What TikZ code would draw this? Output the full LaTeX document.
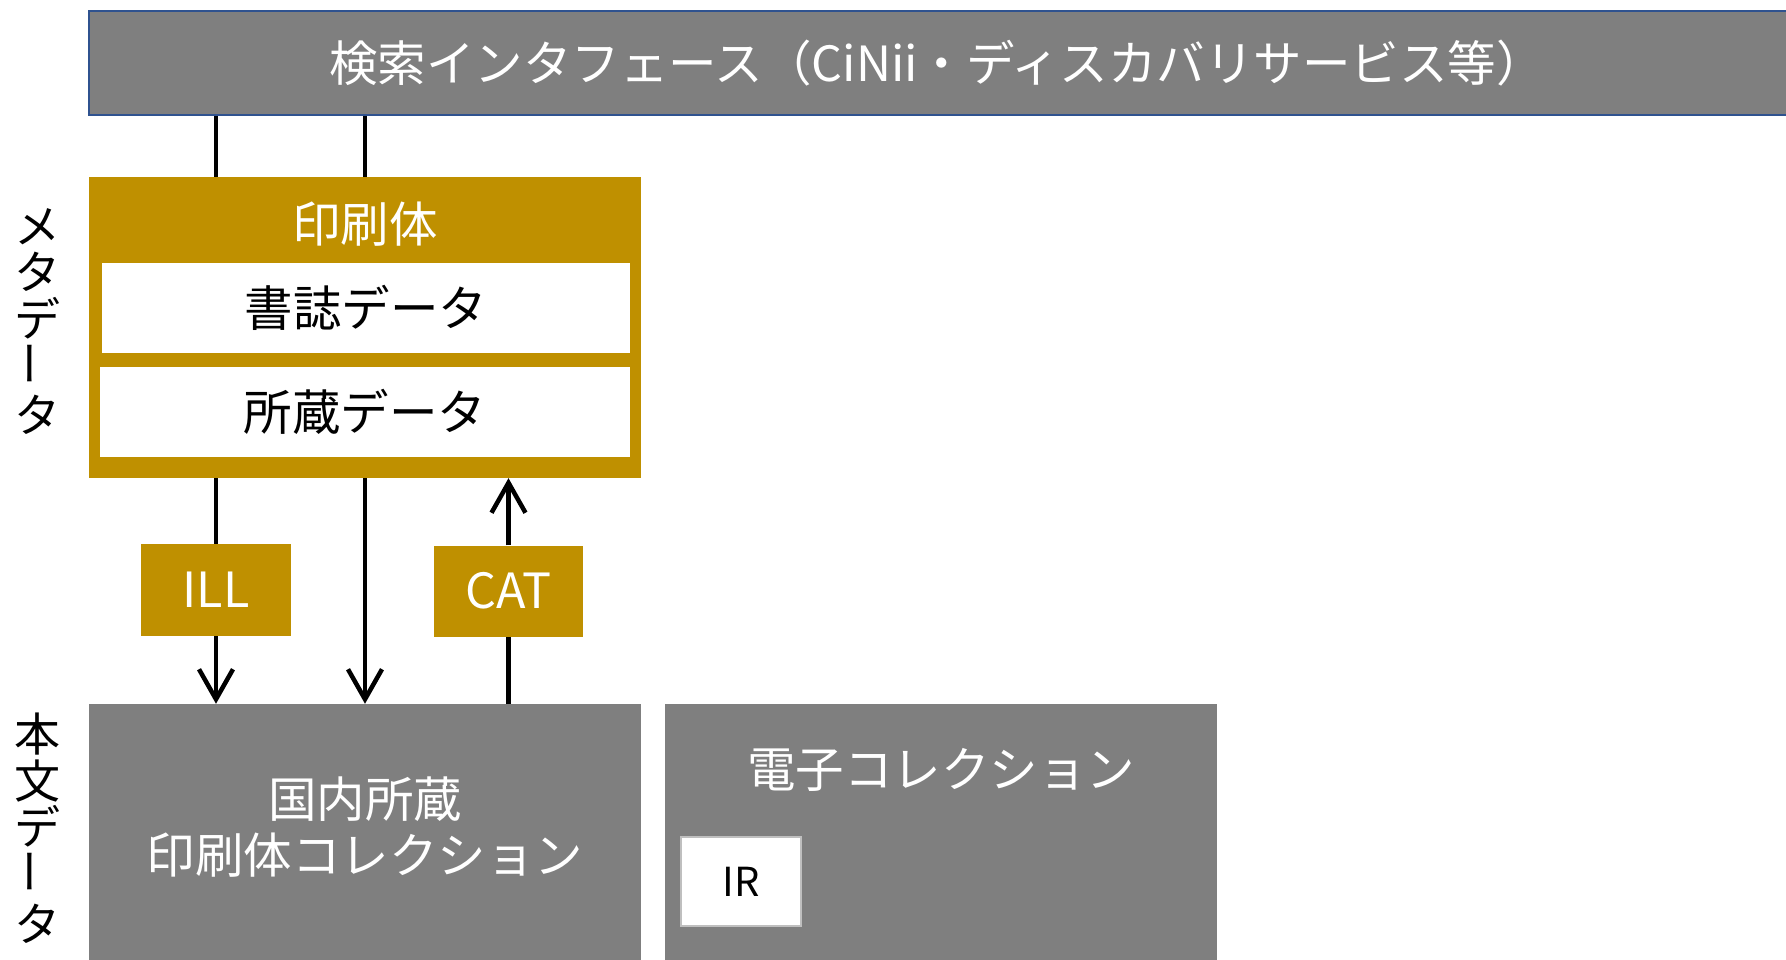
\documentclass[tikz,border=0pt]{standalone}
\usepackage{fontspec}
\setmainfont{Noto Sans CJK JP}
\usetikzlibrary{arrows.meta}
\definecolor{boxgray}{HTML}{7F7F7F}
\definecolor{gold}{HTML}{BF9000}
\definecolor{barborder}{HTML}{2F528F}
\definecolor{irborder}{HTML}{BFBFBF}
\tikzset{
  graybox/.style={fill=boxgray, draw=none, inner sep=0pt},
  goldbox/.style={fill=gold, draw=none, inner sep=0pt},
  whitebox/.style={fill=white, draw=none, inner sep=0pt},
  bigfont/.style={font=\fontsize{48.5}{56}\selectfont},
  wtext/.style={bigfont, text=white, inner sep=0pt},
  btext/.style={bigfont, text=black},
  vlabel/.style={font=\fontsize{46}{46.7}\selectfont, align=center, inner sep=0pt, text=black},
  conn/.style={line width=4.5pt, draw=black},
  arr/.style={conn, -{Straight Barb[length=30pt,width=34pt]}},
}
\begin{document}
\begin{tikzpicture}[x=1pt,y=-1pt]
\useasboundingbox (0,0) rectangle (1786,960);
% top bar
\node[graybox, draw=barborder, line width=2pt, minimum width=1710pt, minimum height=103.6pt] (search) at (944,63.2) {};
\node[wtext] (searchtext) at (937,63) {検索インタフェース（CiNii・ディスカバリサービス等）};
% print metadata
\node[goldbox, minimum width=552pt, minimum height=301pt] (print) at (365,327.5) {};
\node[wtext] (printtitle) at (365,224) {印刷体};
\node[whitebox, btext, minimum width=527.5pt, minimum height=90pt] (biblio) at (366,308) {書誌データ};
\node[whitebox, btext, minimum width=530pt, minimum height=90pt] (holding) at (365,412) {所蔵データ};
% ILL / CAT
\node[goldbox, wtext, minimum width=150pt, minimum height=92pt] (ILL) at (216,590) {ILL};
\node[goldbox, wtext, minimum width=149pt, minimum height=91pt] (CAT) at (508.5,591) {CAT};
% bottom boxes
\node[graybox, minimum width=552pt, minimum height=265pt] (domestic) at (365,836.5) {};
\node[wtext, align=center] (domestictext) at (365,827.5) {国内所蔵\\印刷体コレクション};
\node[graybox, minimum width=552.6pt, minimum height=265pt] (ecoll) at (941,836.5) {};
\node[wtext] (ecolltitle) at (941,770) {電子コレクション};
\node[whitebox, draw=irborder, line width=2pt, font=\fontsize{40}{46}\selectfont, text=black, minimum width=120pt, minimum height=89pt] (IR) at (741,881.5) {IR};
% side labels
\node[vlabel] (metalabel) at (37.6,321.5) {メ\\タ\\デ\\\rotatebox{90}{ー}\\タ};
\node[vlabel] (bodylabel) at (37.6,828) {本\\文\\デ\\\rotatebox{90}{ー}\\タ};
% connectors
\draw[conn] (search.south -| ILL.north) -- (print.north -| ILL.north);
\draw[conn] (search.south -| print.north) -- (print.north);
\draw[conn] (print.south -| ILL.north) -- (ILL.north);
\draw[arr] (ILL.south) -- (domestic.north -| ILL.south);
\draw[arr] (print.south) -- (domestic.north);
\draw[conn] (domestic.north -| CAT.south) -- (CAT.south);
\draw[arr] (CAT.north) -- (print.south -| CAT.north);
\end{tikzpicture}
\end{document}
